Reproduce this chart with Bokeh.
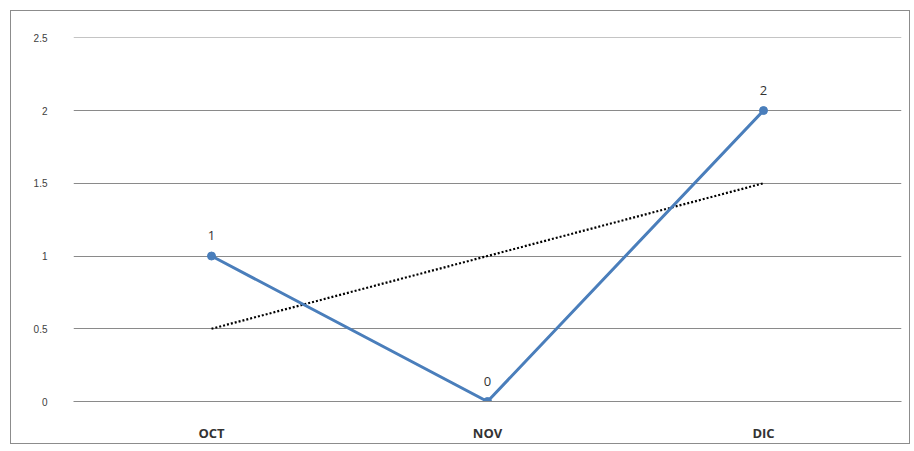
from bokeh.plotting import figure
from bokeh.models import ColumnDataSource, FactorRange, Range1d, FixedTicker, LabelSet
from bokeh.embed import file_html
from bokeh.resources import INLINE
from bokeh.core.properties import value

months = ["OCT", "NOV", "DIC"]
counts = [1, 0, 2]
trend = [0.5, 1.0, 1.5]
y_ticks = [0, 0.5, 1, 1.5, 2, 2.5]

src = ColumnDataSource(dict(m=months, c=counts, t=trend, lbl=[str(v) for v in counts]))

p = figure(width=900, height=434, x_range=FactorRange(*months, range_padding=0),
           y_range=Range1d(0, 2.502), output_backend="svg", toolbar_location=None,
           min_border_left=62, min_border_right=10, min_border_top=26, min_border_bottom=44)
p.styles = {"border": "1px solid #8c8c8c", "margin": "10px 0 0 10px"}
p.outline_line_color = None
p.background_fill_color = "white"
p.border_fill_color = "white"

p.xgrid.grid_line_color = None
p.ygrid.grid_line_color = "#8a8a8a"
p.ygrid.grid_line_width = 1.2

p.yaxis.ticker = FixedTicker(ticks=y_ticks)
p.yaxis.axis_line_color = None
p.yaxis.major_tick_line_color = None
p.yaxis.minor_tick_line_color = None
p.yaxis.major_label_text_font = "Liberation Sans"
p.yaxis.major_label_text_font_size = "10px"
p.yaxis.major_label_text_color = "#404040"
p.yaxis.major_label_standoff = 20

p.xaxis.axis_line_color = "#8a8a8a"
p.xaxis.major_tick_line_color = None
p.xaxis.minor_tick_line_color = None
p.xaxis.major_label_text_font = "Open Sans"
p.xaxis.major_label_text_font_style = "bold"
p.xaxis.major_label_text_font_size = "13px"
p.xaxis.major_label_text_color = "#333333"
p.xaxis.major_label_standoff = 16

p.line("m", "t", source=src, line_color="black", line_width=2.2, line_dash="2 2")
p.line("m", "c", source=src, line_color="#4a7ebb", line_width=3)
p.scatter("m", "c", source=src, size=8, fill_color="#4a7ebb", line_color="#4a7ebb")

labels = LabelSet(x="m", y="c", text="lbl", source=src, text_align="center",
                  text_baseline="bottom", y_offset=16, text_font=value("Open Sans"),
                  text_font_size="13px", text_color="#333333")
p.add_layout(labels)

open("out.html", "w").write(file_html(p, INLINE))
